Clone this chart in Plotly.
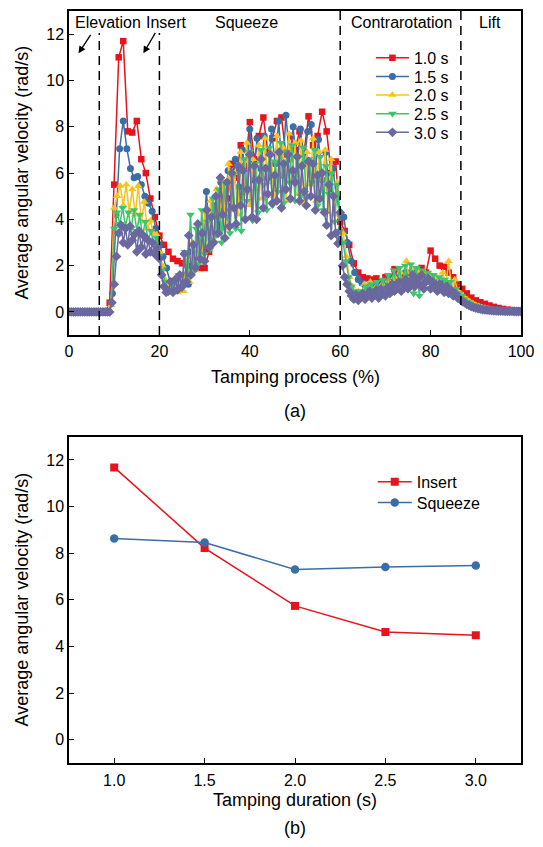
import numpy as np
import plotly.graph_objects as go

# ---------------- data: panel (a) ----------------
series_names = ["1.0 s", "1.5 s", "2.0 s", "2.5 s", "3.0 s"]

v_10 = [0, 0, 0, 0, 0, 0, 0, 0, 0, 0.4,
        5.5, 11.0, 11.7, 7.8, 7.75, 8.25, 6.6, 6.0, 4.9, 4.1,
        3.3, 2.9, 2.6, 2.3, 2.2, 2.1, 2.05, 2.0, 1.95, 1.9,
        1.9, 2.6, 4.6, 3.8, 5.6, 4.9, 6.4, 5.8, 7.2, 6.3,
        8.2, 6.6, 7.6, 8.4, 6.9, 7.5, 8.25, 8.4, 6.8, 7.6,
        7.0, 7.8, 6.9, 8.45, 7.2, 7.6, 8.65, 7.8, 6.0, 6.5,
        3.9, 3.5, 2.9, 2.1, 1.7, 1.5, 1.45, 1.4, 1.45, 1.3,
        1.5, 1.4, 1.85, 1.4, 1.6, 1.7, 1.8, 1.6, 1.9, 1.7,
        2.65, 2.3, 2.0, 1.95, 1.7, 1.5, 1.2, 1.0, 0.8, 0.62,
        0.5, 0.42, 0.35, 0.28, 0.22, 0.17, 0.13, 0.1, 0.08, 0.06,
        0.05]

v_15 = [0, 0, 0, 0, 0, 0, 0, 0, 0, 0, 0, 0,
        0.8, 4.2, 7.05, 8.25, 7.05, 6.2, 5.8, 5.85, 5.5, 5.0,
        4.7, 4.35, 3.6, 2.9, 2.4, 1.9, 1.3, 1.0, 1.2, 1.1,
        1.6, 1.2, 2.6, 1.9, 3.5, 2.6, 5.2, 3.1, 4.6, 3.6,
        5.6, 4.4, 6.1, 4.6, 6.6, 5.4, 7.0, 5.2, 7.9, 5.7,
        7.5, 6.2, 7.6, 5.8, 7.9, 6.4, 8.25, 5.9, 8.5, 6.6,
        8.0, 6.1, 7.9, 6.4, 7.8, 8.1, 5.9, 7.45, 5.7, 6.9,
        5.3, 6.2, 4.9, 4.2, 4.1, 3.0, 2.2, 1.7, 1.4, 1.25,
        1.1, 1.05, 1.0, 1.2, 1.05, 1.3, 1.1, 1.5, 1.2, 1.55,
        1.3, 1.7, 1.35, 1.7, 1.4, 1.75, 1.45, 1.6, 1.3, 1.5,
        1.2, 1.35, 1.1, 1.2, 0.95, 0.9, 0.75, 0.6, 0.5, 0.4,
        0.32, 0.26, 0.2, 0.16, 0.13, 0.1, 0.08, 0.07, 0.06, 0.05,
        0.04, 0.04, 0.03, 0.03]

v_20 = [0, 0, 0, 0, 0, 0, 0, 0, 0, 0, 0, 0, 0, 0,
        0.3, 4.5, 5.0, 5.45, 4.6, 5.5, 4.3, 5.3, 4.2, 5.45,
        3.9, 4.75, 3.6, 3.95, 3.4, 3.35, 2.6, 2.0, 1.4, 1.1,
        0.9, 1.2, 0.85, 1.5, 0.9,
        2.2, 1.3, 3.0, 1.8, 3.6, 2.3, 4.3, 2.9, 4.8, 3.1,
        5.3, 4.0, 5.7, 3.6, 6.4, 4.4, 6.0, 4.2, 6.9, 5.1,
        7.3, 4.6, 6.6, 5.3, 7.2, 4.9, 7.5, 5.6, 6.9, 5.0,
        7.6, 5.4, 7.1, 4.8, 7.7, 5.7, 7.3, 5.1, 7.4, 4.7,
        6.9, 5.5, 7.5, 4.8, 6.9, 5.2, 7.0, 4.3, 6.6, 4.2,
        5.6, 3.6,
        3.4, 2.4, 1.5, 1.1, 0.8, 0.9, 0.7, 1.2, 0.75, 1.3,
        0.8, 1.1, 0.85, 1.2, 0.95, 1.35, 1.0, 1.5, 1.1, 1.7,
        1.2, 2.2, 1.3, 1.9, 1.35, 1.8, 1.3, 1.7, 1.3, 1.6,
        1.25, 1.5, 1.2, 1.7, 1.1, 2.2, 1.0, 1.4, 0.9, 0.8,
        0.65, 0.55, 0.45, 0.38, 0.3, 0.25, 0.2, 0.17, 0.14, 0.11,
        0.09, 0.08, 0.07, 0.06, 0.05, 0.04, 0.04, 0.03, 0.03, 0.03]

v_25 = [0, 0, 0, 0, 0, 0, 0, 0, 0, 0, 0, 0, 0, 0, 0,
        0.4, 3.6, 4.3, 3.8, 4.5, 3.7, 4.3, 3.6, 4.4, 3.5,
        4.2, 3.3, 3.9, 3.1, 3.5, 2.9, 3.2, 2.4, 1.8, 1.3,
        1.0, 0.9, 1.2, 0.95,
        1.6, 1.0, 2.6, 1.4, 4.2, 1.7, 3.6, 2.1, 4.4, 2.5,
        3.9, 2.7, 4.9, 3.3, 5.3, 3.0, 5.6, 4.1, 3.4, 5.9,
        3.6, 6.3, 3.5, 6.6, 4.8, 6.9, 3.95, 6.4, 4.3, 7.0,
        5.5, 4.4, 7.1, 4.6, 6.5, 5.2, 7.3, 4.7, 6.9, 5.6,
        7.2, 4.8, 6.7, 5.0, 7.1, 4.9, 6.6, 5.6, 7.0, 4.6,
        6.7, 4.4, 6.3, 5.1, 6.0, 3.9, 5.5, 3.5,
        3.0, 2.2, 1.5, 1.1, 0.9, 0.75, 0.9, 0.7,
        1.1, 0.75, 1.2, 0.8, 1.3, 0.85, 1.4, 0.9, 1.6, 0.95,
        1.8, 1.0, 1.9, 1.0, 2.0, 1.1, 2.05, 0.8, 1.9, 0.7,
        1.8, 1.0, 1.7, 1.05, 1.6, 1.0, 1.5, 0.95, 1.4, 0.9,
        1.3, 0.85, 1.0, 0.8, 0.7, 0.55, 0.45, 0.38, 0.3, 0.25,
        0.2, 0.17, 0.14, 0.12, 0.1, 0.08, 0.07, 0.06, 0.05, 0.05,
        0.04, 0.04, 0.03, 0.03, 0.03, 0.03]

v_30 = [0, 0, 0, 0, 0, 0, 0, 0, 0, 0, 0, 0, 0, 0, 0, 0, 0, 0, 0,
        0.4, 1.2, 2.4, 3.4, 3.75, 3.0, 3.6, 2.9, 3.7, 3.1, 3.35,
        2.6, 3.5, 2.8, 3.3, 2.5, 3.1, 2.6, 3.0, 2.5, 2.75,
        2.3, 1.6, 1.1, 0.85, 0.9, 1.3, 0.85, 1.4, 0.95, 1.6,
        1.1,
        2.5, 1.3, 3.3, 1.6, 2.9, 1.9, 3.8, 2.3, 3.4, 2.2,
        4.4, 2.8, 4.1, 3.0, 5.0, 3.4, 5.8, 4.2, 3.2, 5.6,
        3.7, 6.0, 4.5, 3.8, 6.3, 4.6, 6.1, 4.0, 5.3, 6.8,
        4.1, 6.3, 4.0, 5.7, 6.6, 4.5, 6.2, 5.1, 6.8, 4.7,
        5.9, 4.8, 6.9, 4.5, 6.4, 5.3, 6.8, 4.9, 6.1, 5.6,
        6.7, 4.8, 6.3, 5.2, 4.6, 6.5, 5.0, 6.4, 4.4, 5.9,
        4.9, 6.0, 4.3, 3.75, 5.5, 3.3, 5.0, 3.4, 2.96, 4.3,
        2.0, 1.5, 1.2, 0.9, 0.7, 0.55, 0.75, 0.5, 0.65, 0.8,
        0.55, 0.7, 0.9, 0.6, 0.75, 0.95, 0.6, 1.0, 0.8, 0.7,
        1.05, 0.8, 1.2, 0.9, 1.0, 1.3, 0.9, 1.2, 1.4, 1.0,
        1.3, 1.6, 1.1, 1.4, 1.2, 1.6, 1.0, 1.3, 1.45, 1.0,
        1.3, 1.1, 0.9, 1.2, 1.0, 0.85, 1.1, 0.8, 0.95, 0.7,
        0.8, 0.6, 0.55, 0.45, 0.4, 0.33, 0.28, 0.23, 0.2, 0.17,
        0.14, 0.12, 0.1, 0.09, 0.08, 0.07, 0.06, 0.05, 0.05, 0.04,
        0.04, 0.04, 0.03, 0.03, 0.03, 0.03, 0.02, 0.02, 0.02, 0.02]

series_values = [v_10, v_15, v_20, v_25, v_30]
series_colors = ["#E8131B", "#3A6EA6", "#F8C31B", "#3EC46E", "#6A689F"]
series_symbols = ["square", "circle", "triangle-up", "triangle-down", "diamond"]
series_sizes = [6.5, 7, 7.5, 7.5, 7.5]
legend_rows_a = [56, 74.7, 93.3, 112, 130.7]   # pixel rows of legend entries

phase_bounds = [6.7, 20, 60, 86.7]
phase_labels = ["Elevation", "Insert", "Squeeze", "Contrarotation", "Lift"]
phase_label_x = [8.7, 21.5, 39.3, 73.5, 93.1]

# ---------------- data: panel (b) ----------------
durations = [1.0, 1.5, 2.0, 2.5, 3.0]
duration_labels = ["1.0", "1.5", "2.0", "2.5", "3.0"]
insert_avg = [11.68, 8.22, 5.74, 4.62, 4.48]
squeeze_avg = [8.63, 8.46, 7.30, 7.41, 7.47]
legend_rows_b = [481, 502]

FONT = "Liberation Sans, Arial, sans-serif"


def paper_y(py):
    return (763 - py) / 754.0


fig = go.Figure()
legend_layout = {}
lg_font = dict(size=16, family=FONT, color="black")
LEG_X = 0.672

k = 1
for name, vals, col, sym, sz, row in zip(series_names, series_values, series_colors,
                                         series_symbols, series_sizes, legend_rows_a):
    xs = np.linspace(0, 100, len(vals))
    lname = "legend" if k == 1 else "legend%d" % k
    fig.add_trace(go.Scatter(
        x=xs, y=vals, name=name, mode="lines+markers",
        line=dict(color=col, width=1.5),
        marker=dict(symbol=sym, size=sz, color=col, line=dict(width=0)),
        xaxis="x", yaxis="y", legend=lname))
    legend_layout[lname] = dict(x=LEG_X - 0.004, y=paper_y(row), xanchor="left", yanchor="middle",
                                font=lg_font, bgcolor="rgba(0,0,0,0)", itemwidth=33)
    k += 1

for name, vals, col, sym, sz, row in [
        ("Insert", insert_avg, "#E8131B", "square", 8, legend_rows_b[0]),
        ("Squeeze", squeeze_avg, "#3A6EA6", "circle", 8.5, legend_rows_b[1])]:
    lname = "legend%d" % k
    fig.add_trace(go.Scatter(
        x=durations, y=vals, name=name, mode="lines+markers",
        line=dict(color=col, width=1.5),
        marker=dict(symbol=sym, size=sz, color=col, line=dict(width=0)),
        xaxis="x2", yaxis="y2", legend=lname))
    legend_layout[lname] = dict(x=LEG_X, y=paper_y(row), xanchor="left", yanchor="middle",
                                font=lg_font, bgcolor="rgba(0,0,0,0)", itemwidth=34)
    k += 1

shapes = []
for b in phase_bounds:
    top = 12.05 if b < 30 else 13
    shapes.append(dict(type="line", xref="x", yref="y", x0=b, x1=b, y0=-1, y1=top,
                       line=dict(color="black", width=1.5, dash="9px,6px")))

annotations = []
for lab, lx in zip(phase_labels, phase_label_x):
    annotations.append(dict(x=lx, y=12.5, xref="x", yref="y", text=lab, showarrow=False,
                            font=dict(size=16, color="black", family=FONT),
                            xanchor="center", yanchor="middle"))
# arrows
annotations.append(dict(x=2.1, y=11.17, ax=5.0, ay=12.03, xref="x", yref="y", axref="x", ayref="y",
                        text="", showarrow=True, arrowhead=2, arrowsize=1.1, arrowwidth=1.3,
                        arrowcolor="black"))
annotations.append(dict(x=16.45, y=11.17, ax=19.3, ay=12.12, xref="x", yref="y", axref="x", ayref="y",
                        text="", showarrow=True, arrowhead=2, arrowsize=1.1, arrowwidth=1.3,
                        arrowcolor="black"))

title_font = dict(size=18, color="black", family=FONT)
ytitle = "Average angular velocity (rad/s)"
annotations += [
    dict(x=-0.104, y=paper_y(171), xref="paper", yref="paper", text=ytitle, textangle=-90,
         showarrow=False, font=title_font, xanchor="center", yanchor="middle"),
    dict(x=-0.104, y=paper_y(599), xref="paper", yref="paper", text=ytitle, textangle=-90,
         showarrow=False, font=title_font, xanchor="center", yanchor="middle"),
    dict(x=0.5, y=paper_y(375.5), xref="paper", yref="paper", text="Tamping process (%)",
         showarrow=False, font=title_font, xanchor="center", yanchor="middle"),
    dict(x=0.5, y=paper_y(410), xref="paper", yref="paper", text="(a)",
         showarrow=False, font=title_font, xanchor="center", yanchor="middle"),
    dict(x=0.5, y=paper_y(800), xref="paper", yref="paper", text="Tamping duration (s)",
         showarrow=False, font=title_font, xanchor="center", yanchor="middle"),
    dict(x=0.5, y=paper_y(828.5), xref="paper", yref="paper", text="(b)",
         showarrow=False, font=title_font, xanchor="center", yanchor="middle"),
]

axis_common = dict(showline=True, linecolor="black", linewidth=1.5, mirror=True,
                   ticks="inside", ticklen=5, tickwidth=1.2, tickcolor="black",
                   showgrid=False, zeroline=False,
                   tickfont=dict(size=16, color="black", family=FONT))

fig.update_layout(
    width=543, height=847,
    margin=dict(l=69, r=20, t=9, b=84),
    paper_bgcolor="white", plot_bgcolor="white",
    font=dict(family=FONT, color="black"),
    xaxis=dict(domain=[0, 1], range=[0, 100], tickvals=[0, 20, 40, 60, 80, 100],
               anchor="y", ticklabelstandoff=1, **axis_common),
    yaxis=dict(domain=[0.569, 1.0], range=[-1, 13], tickvals=[0, 2, 4, 6, 8, 10, 12],
               anchor="x", **axis_common),
    xaxis2=dict(domain=[0, 1], range=[0.75, 3.25], tickvals=durations,
                ticktext=duration_labels, anchor="y2", ticklabelstandoff=2, **axis_common),
    yaxis2=dict(domain=[0, 0.434], range=[-1, 13], tickvals=[0, 2, 4, 6, 8, 10, 12],
                anchor="x2", **axis_common),
    shapes=shapes, annotations=annotations,
    showlegend=True,
    **legend_layout,
)

fig.write_html("out.html")
